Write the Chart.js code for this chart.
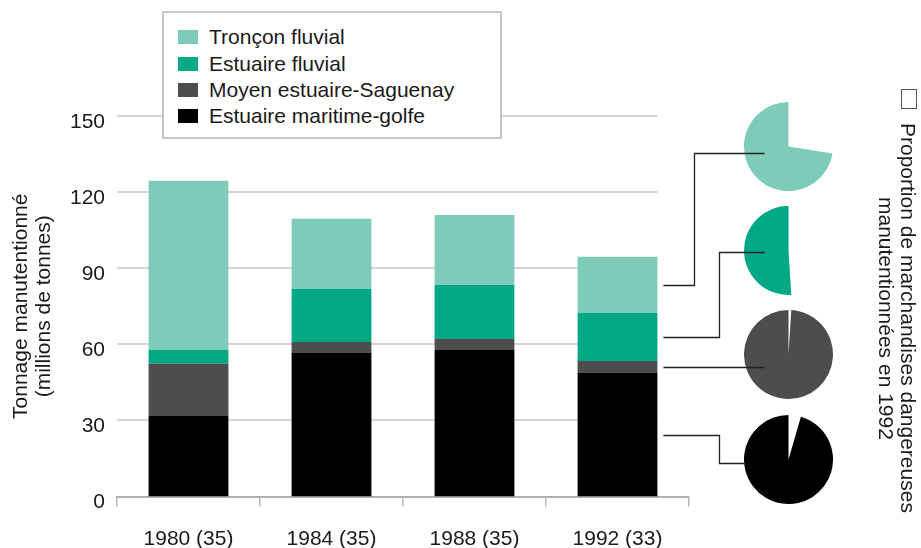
<!DOCTYPE html>
<html lang="fr">
<head>
<meta charset="utf-8">
<title>Tonnage manutentionné</title>
<script src="https://cdn.jsdelivr.net/npm/chart.js@4.4.0/dist/chart.umd.min.js"></script>
<style>
    html, body { margin: 0; padding: 0; background: #fff; }
    #wrap { position: relative; width: 921px; height: 548px; font-family: "Liberation Sans", Arial, sans-serif; color: #1a1a1a; }
    #wrap canvas { position: absolute; }
    #mainChart { left: 0; top: 0; z-index: 2; }
    .pie { z-index: 1; }
    #legend {
        position: absolute; left: 162px; top: 11px; width: 340px; height: 128px;
        box-sizing: border-box; border: 2px solid #c6c6c6; background: #fff;
        padding: 11px 0 0 14px; z-index: 3; font-size: 21px;
    }
    .legend-row { height: 26.4px; display: flex; align-items: center; }
    .legend-box { width: 20px; height: 14px; margin-right: 11px; }
    #noteBox {
        position: absolute; left: 901px; top: 89px; width: 16px; height: 20px;
        box-sizing: border-box; border: 1.5px solid #555; z-index: 3;
    }
    #note {
        position: absolute; left: 875px; top: 118px; width: 44px; height: 400px;
        writing-mode: vertical-rl; text-align: center; font-size: 21px; line-height: 22px;
        z-index: 3; white-space: nowrap;
    }
</style>
</head>
<body>
<div id="wrap">
    <canvas id="mainChart" width="921" height="548"></canvas>
    <div id="legend"></div>
    <div id="noteBox"></div>
    <div id="note">Proportion de marchandises dangereuses<br>manutentionnées en 1992</div>
</div>
<script>
// Data (millions de tonnes)
const categories = ['1980 (35)', '1984 (35)', '1988 (35)', '1992 (33)'];
const seriesNames = ['Estuaire maritime-golfe', 'Moyen estuaire-Saguenay', 'Estuaire fluvial', 'Tronçon fluvial'];
const maritimeGolfe = [31.7, 56.6, 57.8, 48.7];
const moyenSaguenay = [20.6, 4.3, 4.3, 4.7];
const estuaireFluvial = [5.5, 20.9, 21.3, 19.0];
const tronconFluvial = [66.7, 27.7, 27.6, 22.1];
const yTicks = [0, 30, 60, 90, 120, 150];

// Share of dangerous goods in 1992 (%), same order as seriesNames
const dangerous1992 = [4.5, 1, 49, 27.5];

const seriesColors = ['#000000', '#4d4d4d', '#00a886', '#7ecbb9'];
const seriesValues = [maritimeGolfe, moyenSaguenay, estuaireFluvial, tronconFluvial];

// Pie placement (top to bottom: Tronçon, Estuaire fluvial, Moyen, Maritime)
const pieOrder = [3, 2, 1, 0];
const pieSize = 89;
const pieLeft = 744;
const pieTops = [102, 206, 310, 415];
// connector routing from the 1992 bar to each pie
const connectors = [
    { elbowX: 694, endDx: -24, endDy: 6 },
    { elbowX: 719, endDx: -24, endDy: 1 },
    { elbowX: null, endDx: -24, endDy: null },
    { elbowX: 719, endDx: -44, endDy: 3 }
];

Chart.defaults.font.family = '"Liberation Sans", Arial, sans-serif';
Chart.defaults.font.size = 21;
Chart.defaults.color = '#1a1a1a';
Chart.defaults.animation = false;

// Horizontal gridlines stop at the right edge of the last bar
const gridPlugin = {
    id: 'shortGrid',
    beforeDatasetsDraw(chart) {
        const { ctx, chartArea, scales } = chart;
        const meta = chart.getDatasetMeta(0);
        const last = meta.data[meta.data.length - 1];
        const right = last.x + last.width / 2;
        ctx.save();
        ctx.strokeStyle = '#c8c8c8';
        ctx.lineWidth = 1.6;
        yTicks.forEach(v => {
            if (v === 0) return;
            const y = Math.round(scales.y.getPixelForValue(v));
            ctx.beginPath();
            ctx.moveTo(chartArea.left, y);
            ctx.lineTo(right, y);
            ctx.stroke();
        });
        ctx.restore();
    }
};

// Connector lines from 1992 segments to pies
const connectorPlugin = {
    id: 'connectors',
    afterDatasetsDraw(chart) {
        const ctx = chart.ctx;
        ctx.save();
        ctx.strokeStyle = '#222';
        ctx.lineWidth = 1.3;
        pieOrder.forEach((dsIndex, i) => {
            const el = chart.getDatasetMeta(dsIndex).data[categories.length - 1];
            const startX = el.x + el.width / 2 + 6;
            const startY = Math.round((el.y + el.base) / 2) + 0.5;
            const c = connectors[i];
            const cx = pieLeft + pieSize / 2;
            const cy = pieTops[i] + pieSize / 2;
            const endX = cx + c.endDx;
            const endY = c.endDy === null ? startY : Math.round(cy + c.endDy) + 0.5;
            ctx.beginPath();
            ctx.moveTo(startX, startY);
            if (c.elbowX !== null) {
                ctx.lineTo(c.elbowX + 0.5, startY);
                ctx.lineTo(c.elbowX + 0.5, endY);
            }
            ctx.lineTo(endX, endY);
            ctx.stroke();
        });
        ctx.restore();
    }
};

function initializeMainChart() {
    const ctx = document.getElementById('mainChart').getContext('2d');
    new Chart(ctx, {
        type: 'bar',
        data: {
            labels: categories,
            datasets: seriesNames.map((name, i) => ({
                label: name,
                data: seriesValues[i],
                backgroundColor: seriesColors[i],
                borderWidth: 0,
                barPercentage: 0.558,
                categoryPercentage: 1
            }))
        },
        options: {
            responsive: false,
            devicePixelRatio: 1,
            events: [],
            layout: { padding: { top: 116, right: 232, left: 0, bottom: 0 } },
            plugins: {
                legend: { display: false },
                tooltip: { enabled: false }
            },
            scales: {
                x: {
                    stacked: true,
                    grid: { display: true, drawOnChartArea: false, drawTicks: true, tickLength: 10, color: '#b8b8b8', lineWidth: 1.5, offset: true },
                    border: { display: true, color: '#b0b0b0', width: 2 },
                    ticks: { padding: 20, color: '#1a1a1a' },
                    afterFit: scale => { scale.height = 51.5; }
                },
                y: {
                    stacked: true,
                    min: 0,
                    max: 150,
                    afterBuildTicks: scale => { scale.ticks = yTicks.map(v => ({ value: v })); },
                    grid: { display: false, drawTicks: false },
                    border: { display: false },
                    ticks: { padding: 12, labelOffset: 6, color: '#1a1a1a' },
                    title: {
                        display: true,
                        text: ['Tonnage manutentionné', '(millions de tonnes)'],
                        font: { size: 21, lineHeight: 1.1 },
                        padding: { top: 10, bottom: 0 },
                        color: '#1a1a1a'
                    },
                    afterFit: scale => { scale.width = 117; }
                }
            }
        },
        plugins: [gridPlugin, connectorPlugin]
    });
}

// Pie charts for 1992 dangerous goods share
function initializePies() {
    const wrap = document.getElementById('wrap');
    pieOrder.forEach((dsIndex, i) => {
        const canvas = document.createElement('canvas');
        canvas.className = 'pie';
        canvas.width = pieSize;
        canvas.height = pieSize;
        canvas.style.left = pieLeft + 'px';
        canvas.style.top = pieTops[i] + 'px';
        wrap.appendChild(canvas);
        const share = dangerous1992[dsIndex];
        new Chart(canvas.getContext('2d'), {
            type: 'pie',
            data: {
                labels: ['Dangereuses', 'Autres'],
                datasets: [{
                    data: [share, 100 - share],
                    backgroundColor: ['rgba(255,255,255,0)', seriesColors[dsIndex]],
                    borderWidth: 0
                }]
            },
            options: {
                responsive: false,
                devicePixelRatio: 1,
                events: [],
                plugins: { legend: { display: false }, tooltip: { enabled: false } }
            }
        });
    });
}

// HTML legend, top series first
function buildLegend() {
    const legend = document.getElementById('legend');
    legend.innerHTML = seriesNames.map((name, i) => `
        <div class="legend-row">
            <span class="legend-box" style="background:${seriesColors[i]}"></span>${name}
        </div>
    `).reverse().join('');
}

initializePies();
initializeMainChart();
buildLegend();
</script>
</body>
</html>
